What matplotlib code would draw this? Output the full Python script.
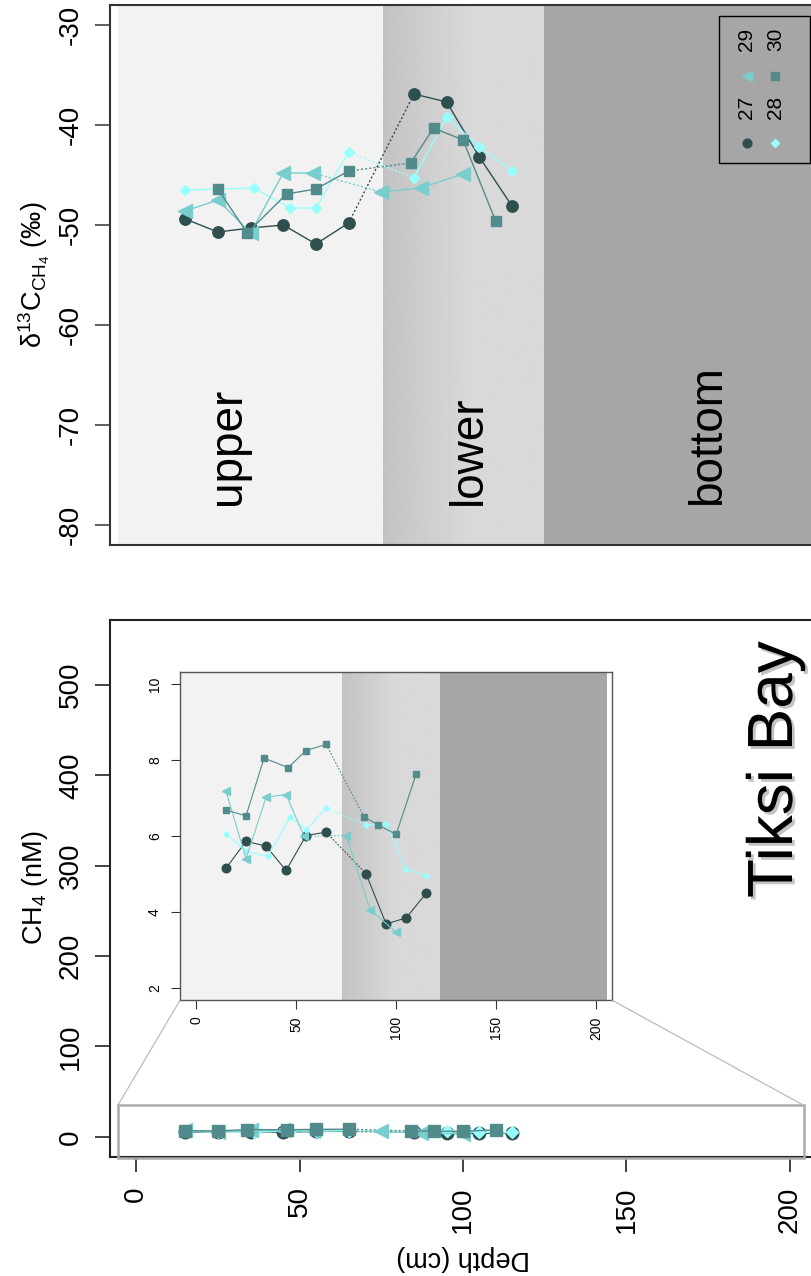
import matplotlib
matplotlib.use('Agg')
import matplotlib.pyplot as plt
import matplotlib.patheffects as pe
from matplotlib.patches import Rectangle, ConnectionPatch
from matplotlib.lines import Line2D
import numpy as np

plt.rcParams['font.family'] = ['Liberation Sans', 'DejaVu Sans']
plt.rcParams['mathtext.default'] = 'regular'
plt.rcParams['axes.unicode_minus'] = False

# ---- data: station cores, Tiksi Bay ----
stations = ['27', '28', '29', '30']

depth_27 = [15, 25, 35, 45, 55, 65, 85, 95, 105, 115]
ch4_27 = [5.16, 5.87, 5.74, 5.10, 6.02, 6.11, 5.01, 3.69, 3.85, 4.50]
d13c_27 = [-49.4, -50.7, -50.3, -50.0, -51.9, -49.8, -36.9, -37.7, -43.2, -48.1]

depth_28 = [15, 25, 36, 47, 55, 65, 85, 95, 105, 115]
ch4_28 = [6.07, 5.60, 5.47, 6.51, 6.17, 6.74, 6.30, 6.32, 5.14, 4.96]
d13c_28 = [-46.5, -46.4, -46.3, -48.3, -48.3, -42.7, -45.3, -39.2, -42.2, -44.6]

depth_29 = [15, 25, 35, 45, 54, 75, 87, 100]
ch4_29 = [7.19, 5.41, 7.03, 7.10, 6.00, 6.02, 4.07, 3.47]
d13c_29 = [-48.6, -47.5, -50.8, -44.8, -44.8, -46.7, -46.3, -44.9]

depth_30 = [15, 25, 34, 46, 55, 65, 84, 91, 100, 110]
ch4_30 = [6.69, 6.54, 8.06, 7.81, 8.26, 8.42, 6.51, 6.30, 6.05, 7.64]
d13c_30 = [np.nan, -46.4, -50.8, -46.9, -46.4, -44.6, -43.8, -40.3, -41.5, -49.6]

# sediment zones (depth, cm)
zone_names = ['upper', 'lower', 'bottom']
zones_d13c = [-5.7, 75.5, 124.8, 210]
zones_inset = [-8, 72.7, 121.8, 205.2]
gap_depth = 70   # no samples between ~65 and ~75 cm -> dotted link

colors = ['#2F4F4F', '#97FFFF', '#79CDCD', '#528B8B']
markers = ['o', 'D', '<', 's']

depths = [depth_27, depth_28, depth_29, depth_30]
ch4 = [ch4_27, ch4_28, ch4_29, ch4_30]
d13c = [d13c_27, d13c_28, d13c_29, d13c_30]

W, H = 811, 1276
fig = plt.figure(figsize=(W / 100, H / 100), dpi=100)


def box(l, t, r, b):
    return [l / W, 1 - b / H, (r - l) / W, (b - t) / H]


def px(x, y):
    return x / W, 1 - y / H


def core(ax, d, v, c, m, ms, lw):
    d = np.asarray(d, float)
    v = np.asarray(v, float)
    up = d < gap_depth
    i = up.sum()
    ax.plot(d[i - 1:i + 1], v[i - 1:i + 1], ls=(0, (1.5, 1.5)), color=c, lw=lw, zorder=2)
    ax.plot(d[up], v[up], color=c, lw=lw, marker=m, ms=ms, mfc=c, mec=c, zorder=3)
    ax.plot(d[~up], v[~up], color=c, lw=lw, marker=m, ms=ms, mfc=c, mec=c, zorder=3)


def zones(ax, edges, ylim):
    ax.axvspan(edges[0], edges[1], color='#F2F2F2', lw=0, zorder=0)
    g = np.concatenate([np.linspace(0.765, 0.85, 140), np.full(116, 0.85)])
    ax.imshow(g[None, :], cmap='gray', vmin=0, vmax=1, aspect='auto',
              extent=[edges[1], edges[2], ylim[0], ylim[1]], interpolation='bilinear', zorder=0)
    ax.axvspan(edges[2], edges[3], color='#A6A6A6', lw=0, zorder=0)


big_ms = {'o': 8.2, 'D': 5.3, '<': 9.4, 's': 7.7}
small_ms = {'o': 6.2, 'D': 2.8, '<': 5.3, 's': 4.8}

# ---- top: d13C-CH4 ----
ax1 = fig.add_axes(box(110, 5, 816, 545))
zones(ax1, zones_d13c, (-82, -28))
for d, v, c, m in zip(depths, d13c, colors, markers):
    core(ax1, d, v, c, m, big_ms[m], 1.0)
ax1.set_xlim(-8, 208)
ax1.set_ylim(-82, -28)
ax1.set_xticks([])
ax1.set_yticks(range(-80, -29, 10))
ax1.tick_params(axis='y', labelrotation=90, labelsize=20, length=10.8, width=1.2, pad=8, color='#444444')
plt.setp(ax1.get_yticklabels(), va='center')
for s in ax1.spines.values():
    s.set_linewidth(1.5)
    s.set_color('#333333')

for name, xb in zip(zone_names, [31.8, 105.5, 178.7]):
    ax1.text(xb, -78, name, rotation=90, rotation_mode='anchor', ha='left', va='baseline',
             fontsize=33, zorder=4)

fig.text(*px(34, 275), r'δ$^{13}$C$_{CH_4}$ (‰)', rotation=90, ha='center', va='center', fontsize=19.5)

# legend drawn sideways
fig.add_artist(Rectangle(px(718.7, 163.3), 91.3 / W, 147.6 / H, transform=fig.transFigure,
                         fc='none', ec='black', lw=1.0))
leg_pos = [(746.5, 142.7, 107), (775.3, 142.7, 107), (746.5, 76, 39), (775.3, 76, 39)]
leg_ms = {'o': 6.3, 'D': 4.5, '<': 7.7, 's': 5.3}
for lab, c, m, (lx, my, ty) in zip(stations, colors, markers, leg_pos):
    fig.add_artist(Line2D([lx / W], [1 - my / H], transform=fig.transFigure, ls='none',
                          marker=m, ms=leg_ms[m], mfc=c, mec=c))
    fig.text(*px(lx, ty), lab, rotation=90, ha='center', va='center', fontsize=15)

# ---- bottom: CH4 concentration ----
ax2 = fig.add_axes(box(110, 620, 816, 1156.7))
for d, v, c, m in zip(depths, ch4, colors, markers):
    core(ax2, d, v, c, m, big_ms[m] * 1.1, 1.0)
ax2.set_xlim(-8, 208)
ax2.set_ylim(-22, 572)
ax2.set_xticks(range(0, 201, 50))
ax2.set_yticks(range(0, 501, 100))
ax2.tick_params(axis='both', labelrotation=90, labelsize=20, length=10.8, width=1.2, color='#222222')
ax2.tick_params(axis='x', pad=10.5)
ax2.tick_params(axis='y', pad=8)
plt.setp(ax2.get_yticklabels(), va='center')
for s in ax2.spines.values():
    s.set_linewidth(1.5)
    s.set_color('#222222')

ax2.add_patch(Rectangle((-5.6, -23.5), 209.8, 58.4, fc='none', ec='#AAAAAA', lw=1.8,
                        clip_on=False, zorder=5))

# inset, 0-10 nM
ax3 = fig.add_axes(box(180, 672.3, 612.3, 1000.3))
zones(ax3, zones_inset, (1.68, 10.32))
for d, v, c, m in zip(depths, ch4, colors, markers):
    core(ax3, d, v, c, m, small_ms[m], 0.8)
ax3.set_xlim(-8, 208)
ax3.set_ylim(1.68, 10.32)
ax3.set_xticks(range(0, 201, 50))
ax3.set_yticks(range(2, 11, 2))
ax3.tick_params(axis='both', labelrotation=90, labelsize=10, length=6.7, width=0.8, color='#333333')
ax3.tick_params(axis='x', pad=4.8)
ax3.tick_params(axis='y', pad=6.2)
plt.setp(ax3.get_yticklabels(), va='center')
for s in ax3.spines.values():
    s.set_linewidth(1.0)
    s.set_color('#555555')

for xa, xb in [(-5.6, 0), (204.2, 1)]:
    fig.add_artist(ConnectionPatch(xyA=(xa, 34.9), coordsA=ax2.transData, xyB=(xb, 0),
                                   coordsB=ax3.transAxes, color='#BBBBBB', lw=0.9))

fig.text(*px(34.5, 888), r'CH$_4$ (nM)', rotation=90, ha='center', va='center', fontsize=19.5)
fig.text(*px(463, 1258), 'Depth (cm)', rotation=180, ha='center', va='center', fontsize=19.5)

fig.text(*px(792, 898), 'Tiksi Bay', rotation=90, rotation_mode='anchor', ha='left', va='baseline',
         fontsize=46,
         path_effects=[pe.SimplePatchShadow(offset=(2, -2), shadow_rgbFace='#888888', alpha=0.5),
                       pe.Normal()])

fig.savefig('out.png', dpi=100)
